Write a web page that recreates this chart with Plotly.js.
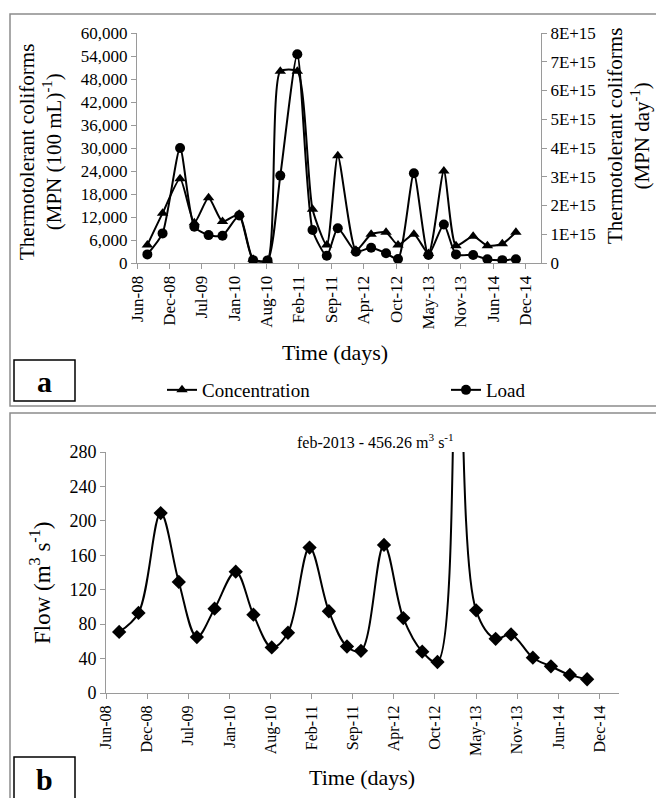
<!DOCTYPE html>
<html>
<head>
<meta charset="utf-8">
<script src="https://cdn.plot.ly/plotly-3.0.1.min.js"></script>
<style>
html,body{margin:0;padding:0;background:#fff;}
#chart{width:656px;height:798px;}
</style>
</head>
<body>
<div id="chart"></div>
<script>
// Sampling dates (shared by both panels)
const dates = ['2008-08-04','2008-11-06','2009-02-22','2009-05-21','2009-08-17','2009-11-11','2010-02-22','2010-05-19','2010-08-16','2010-11-03','2011-02-16','2011-05-21','2011-08-17','2011-10-24','2012-02-13','2012-05-17','2012-08-17','2012-10-30','2013-02-05','2013-05-06','2013-08-09','2013-10-23','2014-02-06','2014-05-05','2014-08-05','2014-10-28'];

// Panel a: thermotolerant coliforms
const concentration = [4700, 13000, 22000, 10500, 17000, 10800, 12700, 1000, 700, 50000, 50000, 14000, 4700, 28000, 3300, 7500, 8000, 4700, 7500, 2500, 24000, 4500, 7000, 4500, 5000, 8000];
const load = [3.0e14, 1.03e15, 4.0e15, 1.26e15, 9.7e14, 9.5e14, 1.65e15, 1.0e14, 9e13, 3.04e15, 7.26e15, 1.15e15, 2.5e14, 1.21e15, 3.9e14, 5.3e14, 3.4e14, 1.4e14, 3.12e15, 2.8e14, 1.34e15, 3.0e14, 2.8e14, 1.3e14, 1.0e14, 1.3e14];

// Panel b: flow (m3/s)
const flow = [71, 93, 209, 129, 65, 98, 141, 91, 53, 70, 169, 95, 54, 49, 172, 87, 48, 36, 456.26, 96, 63, 68, 41, 31, 21, 16];

// Axis ticks
const xTickVals = ['2008-06-01','2008-12-18','2009-07-06','2010-01-22','2010-08-10','2011-02-26','2011-09-14','2012-04-01','2012-10-18','2013-05-06','2013-11-22','2014-06-10','2014-12-27'];
const xTickText = ['Jun-08','Dec-08','Jul-09','Jan-10','Aug-10','Feb-11','Sep-11','Apr-12','Oct-12','May-13','Nov-13','Jun-14','Dec-14'];
const loadTickVals = [0, 1e15, 2e15, 3e15, 4e15, 5e15, 6e15, 7e15, 8e15];
const loadTickText = ['0','1E+15','2E+15','3E+15','4E+15','5E+15','6E+15','7E+15','8E+15'];
const xRange = ['2008-06-01','2015-04-01'];

const W = 656, H = 798;
const px = v => v / W;
const py = v => 1 - v / H;
const FONT = '"Liberation Serif", "Times New Roman", serif';
const AX = '#9a9a9a';

const baseAxis = {
  showline: true, linecolor: AX, linewidth: 1,
  ticks: 'outside', ticklen: 5, tickcolor: AX,
  showgrid: false, zeroline: false,
  tickfont: {family: FONT, size: 17, color: '#000'}
};

const traces = [
  {x: dates, y: concentration, name: 'Concentration', type: 'scatter', mode: 'lines+markers',
   xaxis: 'x', yaxis: 'y', legend: 'legend',
   line: {color: '#000', width: 2, shape: 'spline', smoothing: 0.6},
   marker: {symbol: 'triangle-up', size: 10, color: '#000'}},
  {x: dates, y: load, name: 'Load', type: 'scatter', mode: 'lines+markers',
   xaxis: 'x', yaxis: 'y2', legend: 'legend2',
   line: {color: '#000', width: 2, shape: 'spline', smoothing: 0.6},
   marker: {symbol: 'circle', size: 10, color: '#000'}},
  {x: dates, y: flow, name: 'Flow', type: 'scatter', mode: 'lines+markers',
   xaxis: 'x2', yaxis: 'y3', showlegend: false,
   line: {color: '#000', width: 2, shape: 'spline', smoothing: 1},
   marker: {symbol: 'diamond', size: 11, color: '#000'}}
];

const legendBase = {orientation: 'h', xanchor: 'left', y: py(390), yanchor: 'middle',
  font: {family: FONT, size: 19, color: '#000'}, bgcolor: 'rgba(0,0,0,0)', borderwidth: 0};

const layout = {
  width: W, height: H,
  margin: {l: 0, r: 0, t: 0, b: 0},
  paper_bgcolor: '#fff', plot_bgcolor: 'rgba(0,0,0,0)',
  font: {family: FONT, color: '#000'},
  showlegend: true,
  legend: Object.assign({}, legendBase, {x: px(162)}),
  legend2: Object.assign({}, legendBase, {x: px(446)}),
  xaxis: Object.assign({}, baseAxis, {
    type: 'date', domain: [px(137), px(541)], anchor: 'y', range: xRange,
    tickmode: 'array', tickvals: xTickVals, ticktext: xTickText, tickangle: -90
  }),
  yaxis: Object.assign({}, baseAxis, {
    domain: [py(263), py(33)], anchor: 'x', range: [0, 60000],
    tick0: 0, dtick: 6000, tickformat: ','
  }),
  yaxis2: Object.assign({}, baseAxis, {
    overlaying: 'y', side: 'right', anchor: 'x', range: [0, 8e15],
    tickmode: 'array', tickvals: loadTickVals, ticktext: loadTickText
  }),
  xaxis2: Object.assign({}, baseAxis, {
    type: 'date', domain: [px(106), px(619)], anchor: 'y3', range: xRange,
    tickmode: 'array', tickvals: xTickVals, ticktext: xTickText, tickangle: -90,
    tickfont: {family: FONT, size: 16, color: '#000'}
  }),
  yaxis3: Object.assign({}, baseAxis, {
    domain: [py(693), py(452)], anchor: 'x2', range: [0, 280],
    tick0: 0, dtick: 40, tickfont: {family: FONT, size: 18, color: '#000'}
  }),
  shapes: [
    {type: 'rect', xref: 'paper', yref: 'paper', x0: px(10), x1: px(662), y0: py(406), y1: py(14),
     line: {color: '#8c8c8c', width: 1.5}},
    {type: 'rect', xref: 'paper', yref: 'paper', x0: px(10), x1: px(662), y0: py(810), y1: py(413),
     line: {color: '#8c8c8c', width: 1.5}},
    {type: 'rect', xref: 'paper', yref: 'paper', x0: px(14), x1: px(75), y0: py(401), y1: py(360),
     line: {color: '#000', width: 1.5}},
    {type: 'rect', xref: 'paper', yref: 'paper', x0: px(14), x1: px(75), y0: py(812), y1: py(757),
     line: {color: '#000', width: 1.5}}
  ],
  annotations: [
    {xref: 'paper', yref: 'paper', x: px(40), y: py(152), textangle: -90, showarrow: false,
     xanchor: 'center', yanchor: 'middle',
     text: 'Thermotolerant coliforms<br>(MPN (100 mL)<sup>-1</sup>)',
     font: {family: FONT, size: 21, color: '#000'}},
    {xref: 'paper', yref: 'paper', x: px(628), y: py(136), textangle: -90, showarrow: false,
     xanchor: 'center', yanchor: 'middle',
     text: 'Thermotolerant coliforms<br>(MPN day<sup>-1</sup>)',
     font: {family: FONT, size: 21, color: '#000'}},
    {xref: 'paper', yref: 'paper', x: px(335), y: py(352), showarrow: false,
     xanchor: 'center', yanchor: 'middle', text: 'Time (days)',
     font: {family: FONT, size: 22, color: '#000'}},
    {xref: 'paper', yref: 'paper', x: px(44.5), y: py(381), showarrow: false,
     xanchor: 'center', yanchor: 'middle', text: '<b>a</b>',
     font: {family: FONT, size: 30, color: '#000'}},
    {xref: 'paper', yref: 'paper', x: px(40), y: py(583), textangle: -90, showarrow: false,
     xanchor: 'center', yanchor: 'middle', text: 'Flow (m<sup>3</sup> s<sup>-1</sup>)',
     font: {family: FONT, size: 23, color: '#000'}},
    {xref: 'paper', yref: 'paper', x: px(375), y: py(441), showarrow: false,
     xanchor: 'center', yanchor: 'middle', text: 'feb-2013 - 456.26 m<sup>3</sup> s<sup>-1</sup>',
     font: {family: FONT, size: 16, color: '#000'}},
    {xref: 'paper', yref: 'paper', x: px(362), y: py(777), showarrow: false,
     xanchor: 'center', yanchor: 'middle', text: 'Time (days)',
     font: {family: FONT, size: 22, color: '#000'}},
    {xref: 'paper', yref: 'paper', x: px(44.5), y: py(779), showarrow: false,
     xanchor: 'center', yanchor: 'middle', text: '<b>b</b>',
     font: {family: FONT, size: 30, color: '#000'}}
  ]
};

Plotly.newPlot('chart', traces, layout, {displayModeBar: false, staticPlot: true});
</script>
</body>
</html>
